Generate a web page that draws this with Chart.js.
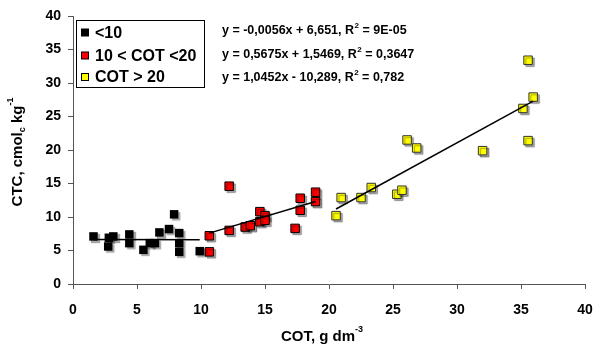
<!DOCTYPE html>
<html>
<head>
<meta charset="utf-8">
<script src="https://cdn.jsdelivr.net/npm/chart.js@4/dist/chart.umd.min.js"></script>
<style>
  html, body { margin: 0; padding: 0; background: #fff; }
  #wrap { width: 595px; height: 352px; }
</style>
</head>
<body>
<div id="wrap"><canvas id="chart" width="595" height="352"></canvas></div>
<script>
// groups
var groupNames = ['<10', '10 < COT <20', 'COT > 20'];
var groupColors = ['#000000', '#FF0000', '#FFFF00'];

// COT (x) and CTC (y)
var lowX  = [1.6, 2.8, 3.15, 2.75, 4.4, 4.4, 5.5, 6.0, 6.4, 6.75, 7.5, 7.9, 8.3, 8.3, 8.3, 9.9];
var lowY  = [7.1, 6.9, 7.1, 5.6, 7.4, 6.1, 5.1, 6.1, 6.1, 7.7, 8.2, 10.4, 7.6, 6.1, 4.8, 4.9];
var midX  = [10.65, 10.65, 12.2, 12.2, 13.45, 13.85, 14.6, 14.6, 15.0, 15.0, 17.35, 17.75, 17.75, 18.95, 18.95];
var midY  = [7.2, 4.8, 14.6, 8.0, 8.5, 8.7, 10.8, 9.3, 10.2, 9.5, 8.3, 12.8, 11.0, 13.7, 12.3];
var highX = [20.55, 20.95, 22.5, 23.3, 25.3, 25.7, 26.1, 26.85, 32.0, 35.15, 35.55, 35.95, 35.55];
var highY = [10.2, 12.9, 12.9, 14.4, 13.4, 14.0, 21.5, 20.3, 19.9, 26.2, 33.4, 27.9, 21.4];

// trend line end points [x1, y1, x2, y2]
var lowTrend  = [1.6, 6.64, 9.9, 6.60];
var midTrend  = [10.65, 7.59, 18.95, 12.30];
var highTrend = [20.55, 11.19, 35.95, 27.29];

var equations = [
  ['y = -0,0056x + 6,651, R', ' = 9E-05'],
  ['y = 0,5675x + 1,5469, R', ' = 0,3647'],
  ['y = 1,0452x - 10,289, R', ' = 0,782']
];

var xTicks = [0, 5, 10, 15, 20, 25, 30, 35, 40];
var yTicks = [0, 5, 10, 15, 20, 25, 30, 35, 40];

var FONT = '"Liberation Sans", Arial, sans-serif';

function toPoints(xs, ys) {
  var pts = [];
  for (var i = 0; i < xs.length; i++) pts.push({x: xs[i], y: ys[i]});
  return pts;
}
function trendData(t) {
  return [{x: t[0], y: t[1]}, {x: t[2], y: t[3]}];
}

function pointSet(label, xs, ys, fill, border, bw) {
  return {
    type: 'scatter', label: label, data: toPoints(xs, ys), order: 1,
    pointStyle: 'rect', pointRadius: 6, pointHoverRadius: 6,
    backgroundColor: fill, borderColor: border, borderWidth: bw
  };
}
function lineSet(t) {
  return {
    type: 'line', label: 'trend', data: trendData(t), order: 0,
    borderColor: '#000', borderWidth: 1.5, pointRadius: 0, fill: false, tension: 0
  };
}

var overlay = {
  id: 'overlay',
  beforeDatasetDraw: function (chart, args) {
    var ds = chart.data.datasets[args.index];
    if (ds.type === 'scatter') {
      var ctx = chart.ctx;
      ctx.save();
      ctx.shadowColor = 'rgba(0,0,0,0.35)';
      ctx.shadowOffsetX = 2;
      ctx.shadowOffsetY = 2;
      ctx.shadowBlur = 1;
    }
  },
  afterDatasetDraw: function (chart, args) {
    var ds = chart.data.datasets[args.index];
    if (ds.type === 'scatter') chart.ctx.restore();
  },
  afterDraw: function (chart) {
    var ctx = chart.ctx;
    ctx.save();
    // legend box
    ctx.fillStyle = '#fff';
    ctx.fillRect(76.5, 20.5, 128, 67);
    ctx.strokeStyle = '#000';
    ctx.lineWidth = 1;
    ctx.strokeRect(76.5, 20.5, 128, 67);
    var ly = [32.5, 55.5, 77];
    ctx.font = 'bold 16px ' + FONT;
    ctx.textBaseline = 'middle';
    for (var i = 0; i < groupNames.length; i++) {
      ctx.fillStyle = groupColors[i];
      ctx.fillRect(81.5, ly[i] - 3.5, 7, 7);
      ctx.strokeStyle = '#000';
      ctx.strokeRect(81.5, ly[i] - 3.5, 7, 7);
      ctx.fillStyle = '#000';
      ctx.fillText(groupNames[i], 95, ly[i] + 1);
    }
    // equations
    var ey = [31, 55, 78];
    for (var j = 0; j < equations.length; j++) {
      ctx.font = 'bold 12.5px ' + FONT;
      ctx.textBaseline = 'middle';
      var x = 222;
      ctx.fillText(equations[j][0], x, ey[j]);
      x += ctx.measureText(equations[j][0]).width;
      ctx.font = 'bold 8px ' + FONT;
      ctx.fillText('2', x + 0.5, ey[j] - 5);
      x += ctx.measureText('2').width + 0.5;
      ctx.font = 'bold 12.5px ' + FONT;
      ctx.fillText(equations[j][1], x, ey[j]);
    }
    // x axis title
    ctx.font = 'bold 15px ' + FONT;
    var a = 'COT, g dm';
    var aw = ctx.measureText(a).width;
    ctx.font = 'bold 9px ' + FONT;
    var sw = ctx.measureText('-3').width;
    var sx = 322 - (aw + sw) / 2;
    ctx.font = 'bold 15px ' + FONT;
    ctx.textAlign = 'left';
    ctx.fillText(a, sx, 337);
    ctx.font = 'bold 9px ' + FONT;
    ctx.fillText('-3', sx + aw, 330);
    // y axis title
    ctx.translate(18, 152);
    ctx.rotate(-Math.PI / 2);
    var p1 = 'CTC, cmol', p2 = 'c', p3 = ' kg', p4 = '-1';
    ctx.font = 'bold 15px ' + FONT;
    var w1 = ctx.measureText(p1).width, w3 = ctx.measureText(p3).width;
    ctx.font = 'bold 9px ' + FONT;
    var w2 = ctx.measureText(p2).width, w4 = ctx.measureText(p4).width;
    var tx = -(w1 + w2 + w3 + w4) / 2;
    ctx.font = 'bold 15px ' + FONT;
    ctx.fillText(p1, tx, 0);
    ctx.font = 'bold 9px ' + FONT;
    ctx.fillText(p2, tx + w1, 5);
    ctx.font = 'bold 15px ' + FONT;
    ctx.fillText(p3, tx + w1 + w2, 0);
    ctx.font = 'bold 9px ' + FONT;
    ctx.fillText(p4, tx + w1 + w2 + w3, -7);
    ctx.restore();
  }
};

var ctx = document.getElementById('chart').getContext('2d');
var myChart = new Chart(ctx, {
  type: 'scatter',
  data: {
    datasets: [
      lineSet(lowTrend),
      lineSet(midTrend),
      lineSet(highTrend),
      pointSet(groupNames[0], lowX, lowY, groupColors[0], '#000', 0),
      pointSet(groupNames[1], midX, midY, groupColors[1], '#000', 1),
      pointSet(groupNames[2], highX, highY, groupColors[2], '#333', 1)
    ]
  },
  options: {
    responsive: false,
    animation: false,
    layout: { padding: { top: 16, right: 10, left: 0, bottom: 0 } },
    plugins: { legend: { display: false }, tooltip: { enabled: false } },
    scales: {
      x: {
        type: 'linear', min: 0, max: 40,
        afterBuildTicks: function (s) { s.ticks = xTicks.map(function (v) { return {value: v}; }); },
        afterFit: function (s) { s.height = 68; s.paddingLeft = 0; s.paddingRight = 0; },
        grid: { drawOnChartArea: false, drawTicks: true, tickLength: 5, color: '#555' },
        border: { color: '#555', width: 1 },
        ticks: { color: '#000', padding: 13, maxRotation: 0, font: { family: FONT, size: 14, weight: 'bold' } }
      },
      y: {
        type: 'linear', min: 0, max: 40,
        afterBuildTicks: function (s) { s.ticks = yTicks.map(function (v) { return {value: v}; }); },
        afterFit: function (s) { s.width = 73; s.paddingTop = 0; s.paddingBottom = 0; },
        grid: { drawOnChartArea: false, drawTicks: true, tickLength: 5, color: '#555' },
        border: { color: '#555', width: 1 },
        ticks: { color: '#000', padding: 7, font: { family: FONT, size: 14, weight: 'bold' } }
      }
    }
  },
  plugins: [overlay]
});
</script>
</body>
</html>
